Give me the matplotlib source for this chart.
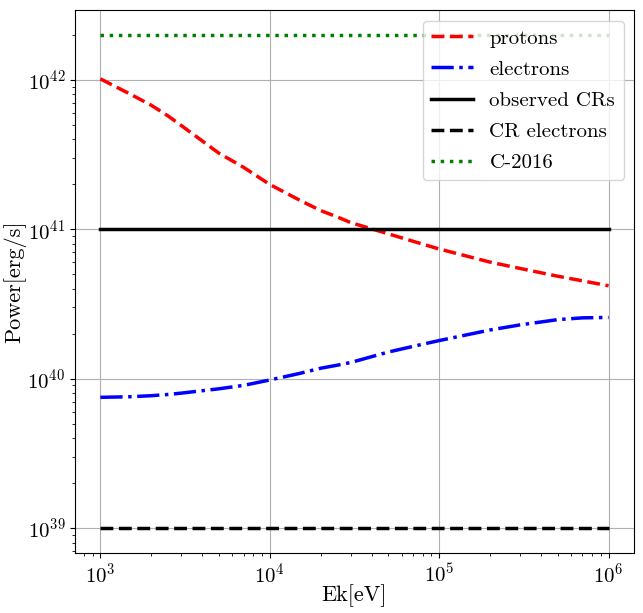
import numpy as np
from matplotlib import pyplot as plt

# kinetic energy grid [eV]
ek = [1e3, 1.5e3, 2e3, 2.5e3, 3e3, 5e3, 7e3, 1e4, 1.5e4, 2e4, 2.5e4, 3e4, 5e4,
      7e4, 1e5, 2e5, 3e5, 5e5, 7e5, 1e6]

# log10 of power [erg/s]
log_protons = [42.007, 41.905, 41.83, 41.76, 41.695, 41.51, 41.415, 41.30,
               41.195, 41.125, 41.083, 41.045, 40.97, 40.92, 40.868, 40.78,
               40.738, 40.686, 40.655, 40.622]
log_electrons = [39.875, 39.879, 39.886, 39.894, 39.903, 39.932, 39.955, 39.991,
                 40.035, 40.07, 40.09, 40.108, 40.178, 40.216, 40.255, 40.326,
                 40.36, 40.395, 40.407, 40.41]

observed_crs = 1e41
cr_electrons = 1e39
c2016 = 2e42

plt.rcParams['font.family'] = 'serif'
plt.rcParams['font.serif'] = ['cmr10']
plt.rcParams['mathtext.fontset'] = 'cm'
plt.rcParams['axes.formatter.use_mathtext'] = True


def main():
    ek_arr = np.array(ek)
    protons = 10 ** np.array(log_protons)
    electrons = 10 ** np.array(log_electrons)
    ones = np.ones_like(ek_arr)

    fig = plt.figure(figsize=(6.43, 6.13), dpi=100)
    ax = fig.add_axes([0.1166, 0.0984, 0.8694, 0.8848])

    lw = 2.5
    ax.plot(ek_arr, protons, 'r--', lw=lw, label='protons')
    ax.plot(ek_arr, electrons, 'b-.', lw=lw, label='electrons')
    ax.plot(ek_arr, observed_crs * ones, 'k-', lw=lw, label='observed CRs')
    ax.plot(ek_arr, cr_electrons * ones, 'k--', lw=lw, label='CR electrons')
    ax.plot(ek_arr, c2016 * ones, 'g:', lw=lw, label='C-2016')

    ax.set_xscale('log')
    ax.set_yscale('log')
    ax.set_xlabel('Ek[eV]', fontsize=16, labelpad=-2)
    ax.set_ylabel('Power[erg/s]', fontsize=16, labelpad=1)
    ax.tick_params(axis='both', which='major', labelsize=15)
    ax.grid()
    ax.legend(loc='upper right', fontsize=15, labelspacing=0.6)

    fig.savefig('out.png', dpi=100)


if __name__ == "__main__":
    main()
